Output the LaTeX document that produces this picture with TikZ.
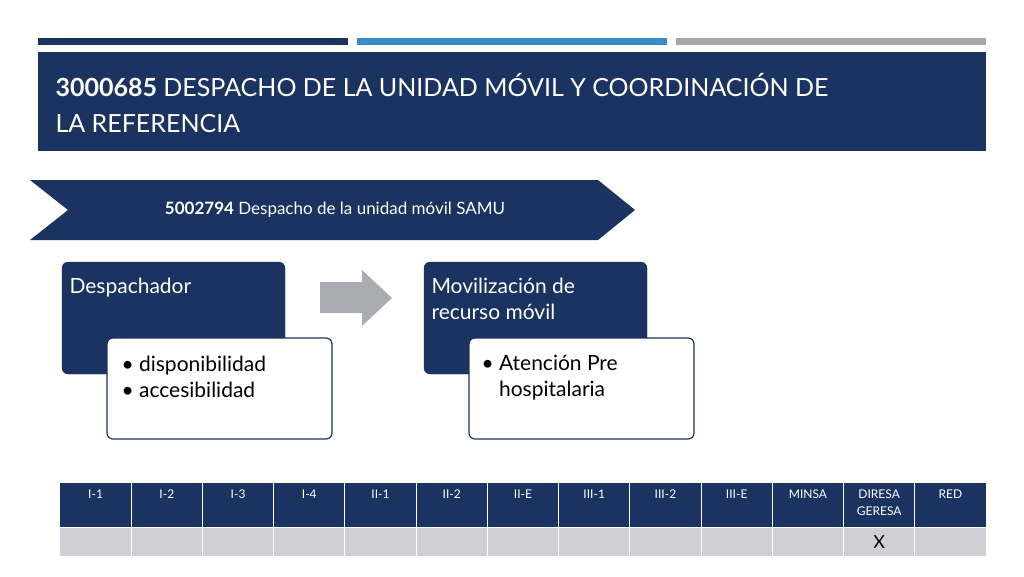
\documentclass[tikz,border=0pt]{standalone}
\usepackage{fontspec}
\setmainfont{Lato}
\usetikzlibrary{positioning}
\definecolor{navy}{HTML}{1B3361}
\definecolor{midblue}{HTML}{3A8CC4}
\definecolor{barGray}{HTML}{A6A6A6}
\definecolor{cellGray}{HTML}{D0CFD6}
\definecolor{arrowGray}{HTML}{A9ACB3}
\tikzset{
  headbox/.style = {fill=navy, draw=navy, rounded corners=6pt},
  listbox/.style = {fill=white, draw=navy, line width=1.2pt, rounded corners=6pt},
  headtext/.style = {text=white, anchor=north west, align=left,
                     font=\fontsize{21}{26}\selectfont},
  listtext/.style = {text=black, anchor=north west, align=left,
                     font=\fontsize{21}{26}\selectfont},
  cell/.style = {text=white, font=\fontsize{12}{17}\selectfont, align=center, anchor=north},
}
\begin{document}
\begin{tikzpicture}[x=1pt,y=-1pt]
  \useasboundingbox (0,0) rectangle (1024,576);
  \fill[white] (0,0) rectangle (1024,576);
  % top bars
  \fill[navy]      (38,38)  rectangle (348,45);
  \fill[midblue]   (357,38) rectangle (667,45);
  \fill[barGray]   (676,38) rectangle (986,45);
  % title
  \fill[navy] (38,52) rectangle (986,151);
  \node (title) [text=white, anchor=north west, align=left,
    font=\fontsize{25}{36}\selectfont] at (52,70)
    {\textbf{3000685} DESPACHO DE LA UNIDAD MÓVIL Y COORDINACIÓN DE\\LA REFERENCIA};
  % chevron
  \fill[navy] (30,180) -- (598,180) -- (635,210) -- (598,240) -- (30,240) -- (68,210) -- cycle;
  \node (chev) [text=white, font=\fontsize{17}{20}\selectfont] at (335,210)
    {\textbf{5002794} Despacho de la unidad móvil SAMU};
  % left group
  \draw[headbox] (62,262) rectangle (285,374);
  \node (desp) [headtext] at (66,274) {Despachador};
  \draw[listbox] (107,338) rectangle (332,439);
  \node (list1) [listtext] at (118,352)
    {\textbullet\ disponibilidad\\\textbullet\ accesibilidad};
  % arrow
  \fill[arrowGray] (320,282) -- (362,282) -- (362,270) -- (392,298) -- (362,326)
    -- (362,313) -- (320,313) -- cycle;
  % right group
  \draw[headbox] (424,262) rectangle (647,374);
  \node (movil) [headtext] at (428,274) {Movilización de\\recurso móvil};
  \draw[listbox] (469,338) rectangle (694,439);
  \node (list2) [listtext] at (478,352)
    {\textbullet\ Atención Pre\\\phantom{\textbullet}\ hospitalaria};
  % table
  \fill[navy] (60,483) rectangle (986,527);
  \fill[cellGray] (60,528) rectangle (986,556);
  \foreach \lbl [count=\i] in {I-1,I-2,I-3,I-4,II-1,II-2,II-E,III-1,III-2,III-E,MINSA,DIRESA\\GERESA,RED}{
    \node (c\i) [cell] at ({60+(\i-0.5)*71.23},486) {\lbl};
  }
  \foreach \i in {1,...,12}{
    \draw[white, line width=1pt] ({60+\i*71.23},483) -- ({60+\i*71.23},556);
  }
  \draw[white, line width=1.5pt] (60,527.5) -- (986,527.5);
  \node (mark) [font=\fontsize{18}{20}\selectfont] at ({60+11.5*71.23},542) {X};
\end{tikzpicture}
\end{document}
